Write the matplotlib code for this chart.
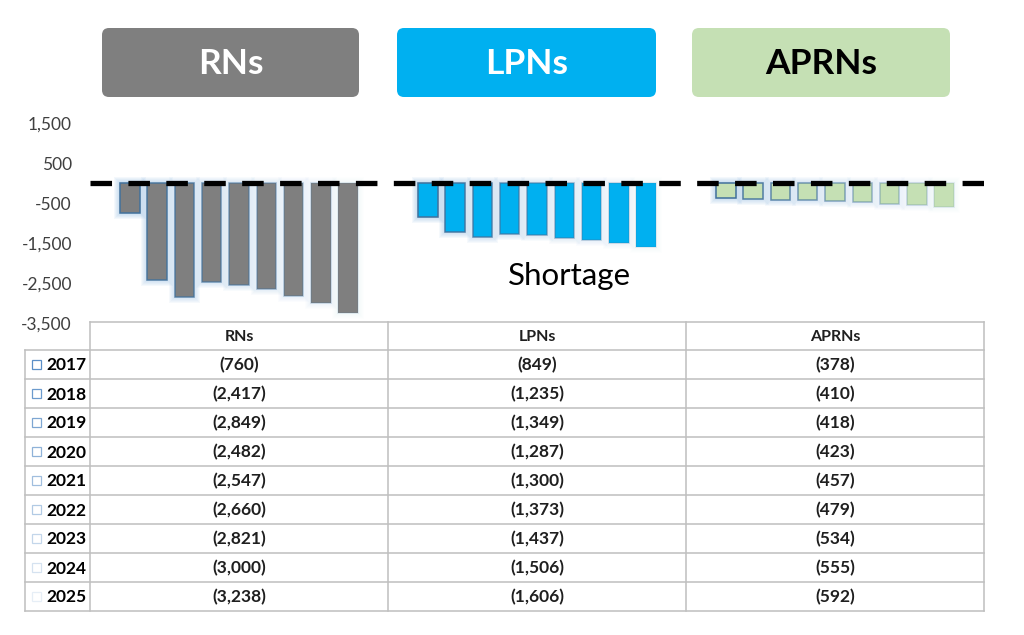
import matplotlib
matplotlib.use('Agg')
import matplotlib.pyplot as plt
from matplotlib.patches import FancyBboxPatch, Rectangle
from matplotlib.colors import to_rgba
import numpy as np

# ---------------- data ----------------
categories = ['RNs', 'LPNs', 'APRNs']
years = ['2017', '2018', '2019', '2020', '2021', '2022', '2023', '2024', '2025']
rns = [-760, -2417, -2849, -2482, -2547, -2660, -2821, -3000, -3238]
lpns = [-849, -1235, -1349, -1287, -1300, -1373, -1437, -1506, -1606]
aprns = [-378, -410, -418, -423, -457, -479, -534, -555, -592]
yticks = [1500, 500, -500, -1500, -2500, -3500]
shortage_label = 'Shortage'

cat_colors = ['#7F7F7F', '#00B0F0', '#C5E0B4']
header_text_colors = ['white', 'white', 'black']

plt.rcParams['font.family'] = ['Lato', 'DejaVu Sans']
plt.rcParams['lines.scale_dashes'] = False

W, H = 1024, 635
fig = plt.figure(figsize=(W / 100, H / 100), dpi=100)


def frac(x0, y0, x1, y1):
    return [x0 / W, 1 - y1 / H, (x1 - x0) / W, (y1 - y0) / H]


# background / overlay axes in pixel coordinates
bg = fig.add_axes([0, 0, 1, 1])
bg.set_xlim(0, W)
bg.set_ylim(H, 0)
bg.axis('off')

# ---------------- main chart ----------------
ax = fig.add_axes(frac(90, 123, 984, 323))
ax.patch.set_alpha(0)
ax.set_xlim(-0.5, 2.5)
ax.set_ylim(-3500, 1500)
for s in ax.spines.values():
    s.set_visible(False)

series = np.array([rns, lpns, aprns])  # shape (3 categories, 9 years)
n = len(years)
cat_px = 298.0
pitch = 27.3 / cat_px
bw = 19.5 / cat_px
pxx = 1 / cat_px
pxy = 5000 / 200.0
xc = np.arange(len(categories))

for i in range(n):
    a = 1.0 - 0.85 * i / (n - 1)
    vals = series[:, i]
    x = xc + (i - (n - 1) / 2) * pitch
    # glow
    for k in range(1, 7):
        ax.bar(x, vals - 2 * k * pxy, bottom=k * pxy, width=bw + 2 * k * pxx,
               color=to_rgba('#9DC3E6', 0.11 * a), linewidth=0, zorder=1)
    ax.bar(x, vals, width=bw, color=cat_colors,
           edgecolor=to_rgba('#41719C', a), linewidth=1.1, zorder=2)

ax.axhline(0, color='black', lw=3.8, dashes=(15.5, 11.8),
           dash_capstyle='butt', zorder=5)

ax.set_xticks([])
ax.set_yticks(yticks)
ax.set_yticklabels([f"{v:,}" for v in yticks])
ax.tick_params(axis='y', length=0, pad=13, labelsize=12.5, labelcolor='#3F3F3F')

# ---------------- header boxes ----------------
boxes = [(102, 28, 359, 97), (397, 28, 656, 97), (692, 28, 950, 97)]
for (x0, y0, x1, y1), name, c, tc in zip(boxes, categories, cat_colors, header_text_colors):
    bg.add_patch(FancyBboxPatch((x0, y0), x1 - x0, y1 - y0,
                                boxstyle='round,pad=0,rounding_size=7',
                                facecolor=c, edgecolor='none'))
    bg.text((x0 + x1) / 2, (y0 + y1) / 2 + 1, name, ha='center', va='center',
            fontsize=25.5, fontweight='bold', color=tc)

# Shortage label
bg.text(570, 276, shortage_label, ha='center', va='center', fontsize=22.5, color='black')

# ---------------- data table ----------------
line_c = '#BFBFBF'
lw = 1.1
col_x = [90, 388, 686, 984]
top = 322
hdr_bottom = 350
row_h = 29
bottom = hdr_bottom + row_h * n
left = 25
text_c = '#1F1F1F'

bg.plot([col_x[0], col_x[-1]], [top, top], color=line_c, lw=lw)
for xv in col_x:
    bg.plot([xv, xv], [top, bottom], color=line_c, lw=lw)
bg.plot([left, left], [hdr_bottom, bottom], color=line_c, lw=lw)
for r in range(n + 1):
    yv = hdr_bottom + r * row_h
    bg.plot([left, col_x[-1]], [yv, yv], color=line_c, lw=lw)

for j, name in enumerate(categories):
    cx = (col_x[j] + col_x[j + 1]) / 2
    bg.text(cx, (top + hdr_bottom) / 2 + 1, name, ha='center', va='center',
            fontsize=11.5, fontweight='bold', color=text_c)

for i, yr in enumerate(years):
    cy = hdr_bottom + (i + 0.5) * row_h
    a = 1.0 - 0.85 * i / (n - 1)
    bg.add_patch(Rectangle((32, cy - 4.5), 9, 9, facecolor='white',
                           edgecolor=to_rgba('#5B8FC7', a), linewidth=0.9))
    bg.text(46, cy + 1, yr, ha='left', va='center', fontsize=12.5,
            fontweight='bold', color='black')
    for j in range(len(categories)):
        cx = (col_x[j] + col_x[j + 1]) / 2
        v = series[j, i]
        bg.text(cx, cy + 1, f"({abs(v):,})", ha='center', va='center',
                fontsize=12.5, fontweight='bold', color=text_c)

fig.savefig('out.png', dpi=100, facecolor='white')
